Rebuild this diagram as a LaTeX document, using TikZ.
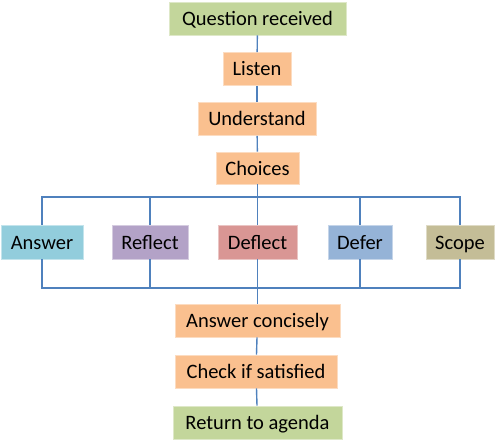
\documentclass[tikz,border=0pt]{standalone}
\usepackage{fontspec}
\setmainfont{Carlito}
\usetikzlibrary{positioning, calc}
\definecolor{startgreen}{RGB}{195,214,155}
\definecolor{stepor}{RGB}{250,192,143}
\definecolor{answercol}{RGB}{146,205,220}
\definecolor{reflectcol}{RGB}{179,162,199}
\definecolor{deflectcol}{RGB}{217,150,148}
\definecolor{defercol}{RGB}{149,179,215}
\definecolor{scopecol}{RGB}{196,189,151}
\definecolor{linkblue}{RGB}{79,129,189}
\tikzset{
  box/.style={rectangle, fill=#1, draw=#1!55!white, line width=0.7pt,
              inner sep=0pt, minimum height=33pt, align=center,
              text height=17pt, text depth=3pt,
              font=\fontsize{20.5}{24}\selectfont},
  link/.style={draw=linkblue, line width=1.4pt},
}
\begin{document}
\begin{tikzpicture}[x=1pt, y=1pt]
        \useasboundingbox (0,0) rectangle (495,440);

        % Entry steps
        \node[box=startgreen, minimum width=177pt] (question) at (257.5,421.5) {Question received};
        \node[box=stepor, minimum width=68pt] (listen) at (257,371) {Listen};
        \node[box=stepor, minimum width=118pt] (understand) at (257,321) {Understand};
        \node[box=stepor, minimum width=83pt, minimum height=32pt] (choices) at (257.5,272) {Choices};

        % The five choices
        \node[box=answercol, minimum width=82pt, minimum height=34pt] (answer) at (42,198) {Answer};
        \node[box=reflectcol, minimum width=76pt, minimum height=34pt] (reflect) at (150,198) {Reflect};
        \node[box=deflectcol, minimum width=79pt, minimum height=34pt] (deflect) at (257.5,198) {Deflect};
        \node[box=defercol, minimum width=64pt, minimum height=34pt] (defer) at (360,198) {Defer};
        \node[box=scopecol, minimum width=68pt, minimum height=34pt] (scope) at (460,198) {Scope};

        % Closing steps
        \node[box=stepor, minimum width=165pt] (concise) at (257.5,119.5) {Answer concisely};
        \node[box=stepor, minimum width=162pt] (check) at (256,68.5) {Check if satisfied};
        \node[box=startgreen, minimum width=169pt] (agenda) at (257.5,17.5) {Return to agenda};

        % Bus lines above and below the choices
        \coordinate (bustop) at (257.5,243);
        \coordinate (busbot) at (257.5,152);

        \draw[link] (question) -- (listen);
        \draw[link] (listen) -- (understand);
        \draw[link] (understand) -- (choices);
        \draw[link] (choices) -- (deflect);
        \draw[link] (deflect) -- (concise);
        \draw[link] (concise) -- (check);
        \draw[link] (check) -- (agenda);

        \draw[link] (answer.north) |- (bustop) -| (scope.north);
        \draw[link] (answer.south) |- (busbot) -| (scope.south);
        \foreach \n in {reflect, defer} {
          \draw[link] (\n.north) -- (\n.north |- bustop);
          \draw[link] (\n.south) -- (\n.south |- busbot);
        }
      \end{tikzpicture}
\end{document}
